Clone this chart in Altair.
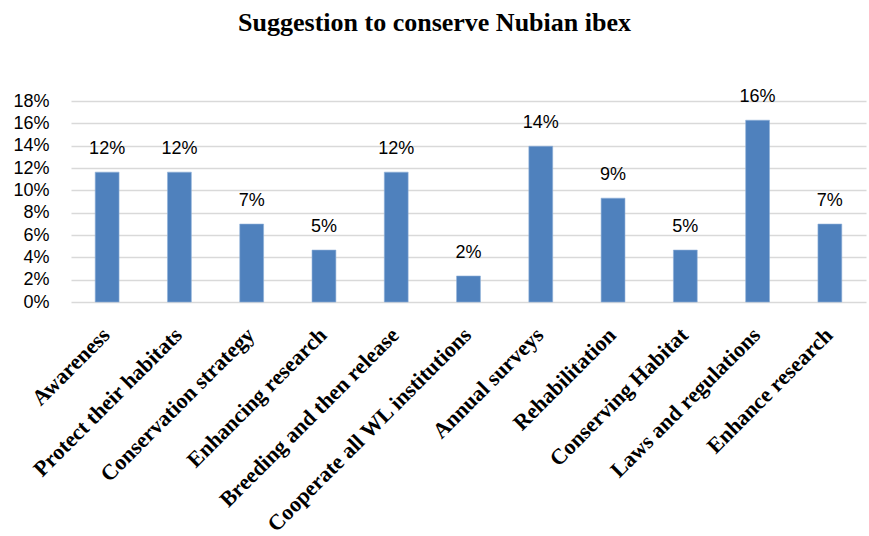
import altair as alt
import pandas as pd

# Share of respondents per suggestion (n = 43)
suggestions = [
    "Awareness",
    "Protect their habitats",
    "Conservation strategy",
    "Enhancing research",
    "Breeding and then release",
    "Cooperate all WL institutions",
    "Annual surveys",
    "Rehabilitation",
    "Conserving Habitat",
    "Laws and regulations",
    "Enhance research",
]
shares = [0.1163, 0.1163, 0.0698, 0.0465, 0.1163, 0.0233, 0.1395, 0.0930, 0.0465, 0.1628, 0.0698]
y_ticks = [0, 0.02, 0.04, 0.06, 0.08, 0.10, 0.12, 0.14, 0.16, 0.18]

df = pd.DataFrame({"suggestion": suggestions, "share": shares})

x_enc = alt.X(
    "suggestion:N",
    sort=suggestions,
    title=None,
    scale=alt.Scale(paddingInner=0.67, paddingOuter=0.335),
    axis=alt.Axis(
        labelAngle=-45,
        labelFont="Liberation Serif",
        labelFontWeight="bold",
        labelFontSize=22,
        labelColor="#000000",
        labelPadding=22,
        labelOffset=-8,
        labelLimit=400,
        ticks=False,
        domain=False,
        grid=False,
    ),
)
y_enc = alt.Y(
    "share:Q",
    title=None,
    scale=alt.Scale(domain=[0, 0.18], nice=False),
    axis=alt.Axis(
        values=y_ticks,
        format=".0%",
        labelFont="Liberation Sans",
        labelFontSize=18,
        labelColor="#000000",
        labelPadding=22,
        ticks=False,
        domain=False,
        gridColor="#d9d9d9",
        gridWidth=1.5,
    ),
)

bars = alt.Chart(df).mark_bar(color="#4f81bd", stroke="#8fb0d8", strokeWidth=0.6).encode(
    x=x_enc, y=y_enc
)

labels = alt.Chart(df).mark_text(
    font="Liberation Sans", fontSize=18, color="#000000", baseline="alphabetic", dy=-18
).encode(x=x_enc, y=y_enc, text=alt.Text("share:Q", format=".0%"))

chart = (
    alt.layer(bars, labels)
    .properties(
        width=795,
        height=201,
        autosize=alt.AutoSizeParams(type="none"),
        padding={"left": 71, "top": 101, "right": 3, "bottom": 234},
        title=alt.TitleParams(
            "Suggestion to conserve Nubian ibex",
            font="Liberation Serif",
            fontWeight="bold",
            fontSize=26,
            color="#000000",
            anchor="middle",
            dx=-34,
            offset=52,
        ),
    )
    .configure_view(stroke=None)
)

chart.save("out.html", embed_options={"renderer": "svg", "actions": False})
